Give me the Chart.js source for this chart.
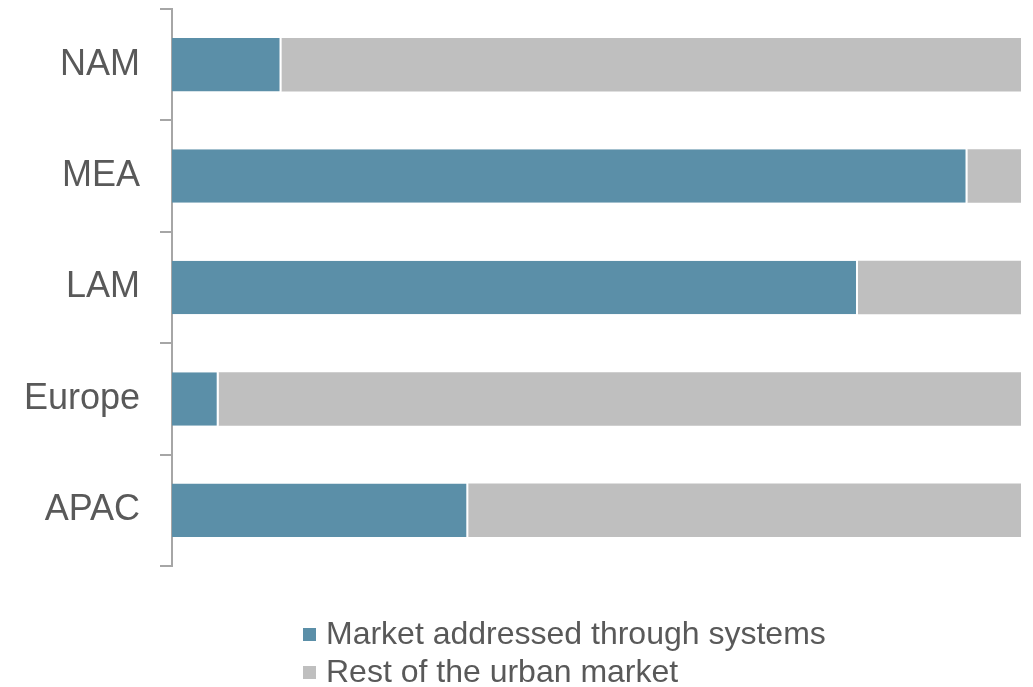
<!DOCTYPE html>
<html>
<head>
<meta charset="utf-8">
<script src="https://cdn.jsdelivr.net/npm/chart.js@4/dist/chart.umd.min.js"></script>
<style>
    html, body { margin: 0; padding: 0; background: #fff; }
    #wrap { position: relative; width: 1033px; height: 687px; }
    #legend {
        position: absolute; left: 303px; top: 614px;
        font-family: "Liberation Sans", Arial, sans-serif; font-size: 32px;
        color: #595959; line-height: 38px;
    }
    .item { display: flex; align-items: center; white-space: nowrap; }
    .box { width: 13px; height: 13px; margin-right: 10px; margin-top: 2px; }
</style>
</head>
<body>
<div id="wrap">
    <canvas id="chart" width="1033" height="687"></canvas>
    <div id="legend"></div>
</div>
<script>
const regions = ["NAM", "MEA", "LAM", "Europe", "APAC"];
const addressed = [12.9, 93.7, 80.8, 5.5, 34.9];
const restOfMarket = [87.1, 6.3, 19.2, 94.5, 65.1];
const seriesNames = ["Market addressed through systems", "Rest of the urban market"];
const seriesColors = ["#5b8fa8", "#bfbfbf"];

const axisGray = "#a6a6a6";

const ctx = document.getElementById("chart").getContext("2d");
const chart = new Chart(ctx, {
    type: "bar",
    data: {
        labels: regions,
        datasets: [
            {
                label: seriesNames[0],
                data: addressed,
                backgroundColor: seriesColors[0],
                borderColor: "#ffffff",
                borderWidth: { top: 0, bottom: 0, left: 0, right: 2 },
                borderSkipped: false,
                barPercentage: 0.48,
                categoryPercentage: 1,
            },
            {
                label: seriesNames[1],
                data: restOfMarket,
                backgroundColor: seriesColors[1],
                borderWidth: 0,
                barPercentage: 0.48,
                categoryPercentage: 1,
            },
        ],
    },
    options: {
        indexAxis: "y",
        responsive: false,
        animation: false,
        layout: { padding: { top: 9, right: 12, bottom: 121, left: 0 } },
        plugins: {
            legend: { display: false },
            tooltip: { enabled: false },
        },
        scales: {
            x: {
                stacked: true,
                display: false,
                min: 0,
                max: 100,
            },
            y: {
                stacked: true,
                afterFit: (scale) => {
                    scale.width = 172;
                    // label besar jangan menambah padding atas/bawah
                    scale.paddingTop = 0;
                    scale.paddingBottom = 0;
                },
                border: { display: true, color: axisGray, width: 2 },
                grid: {
                    display: true,
                    drawOnChartArea: false,
                    drawTicks: true,
                    tickLength: 12,
                    color: axisGray,
                    lineWidth: 2,
                    offset: true,
                },
                ticks: {
                    color: "#595959",
                    padding: 20,
                    font: { family: "'Liberation Sans', Arial, sans-serif", size: 36 },
                },
            },
        },
    },
});

// legend als HTML, baris rata kiri seperti di gambar
const legendEl = document.getElementById("legend");
seriesNames.forEach((name, i) => {
    const row = document.createElement("div");
    row.className = "item";
    const box = document.createElement("span");
    box.className = "box";
    box.style.background = seriesColors[i];
    const txt = document.createElement("span");
    txt.textContent = name;
    row.appendChild(box);
    row.appendChild(txt);
    legendEl.appendChild(row);
});
</script>
</body>
</html>
